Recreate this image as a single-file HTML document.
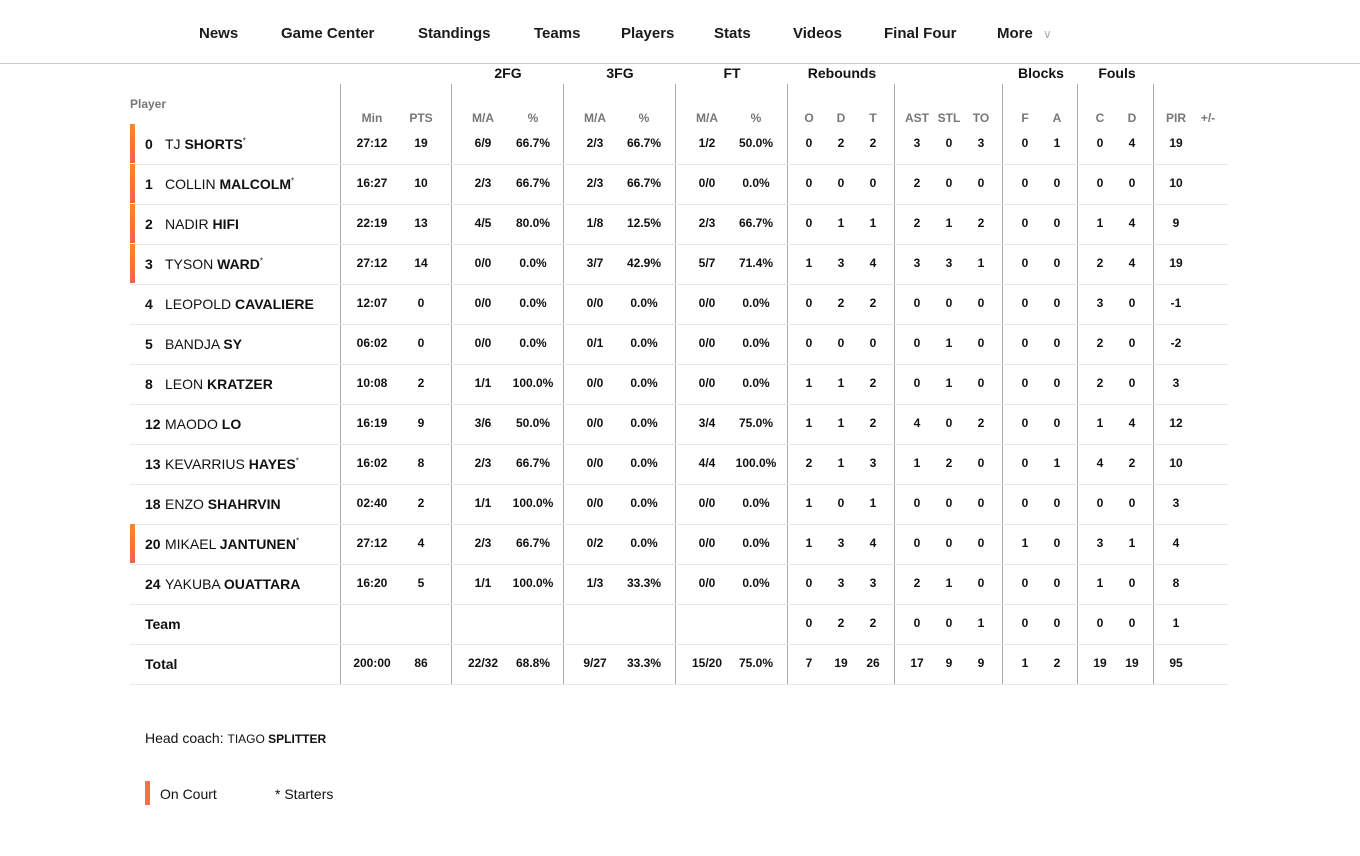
<!DOCTYPE html>
<html><head><meta charset="utf-8"><style>
body{margin:0;width:1360px;height:856px;background:#fff;font-family:"Liberation Sans",sans-serif;color:#111;position:relative;overflow:hidden}
.a{position:absolute;white-space:nowrap}
.nav{top:25px;font-size:15px;font-weight:bold;color:#1a1a1a}
.c{transform:translateX(-50%);font-size:12px;font-weight:bold;top:0}
.h{color:#777;font-size:12px;font-weight:bold}
.g{font-size:14px;font-weight:bold;transform:translateX(-50%);top:65px}
.vl{position:absolute;top:84px;height:600px;width:1px;background:#aaa}
.hl{position:absolute;left:130px;width:1098px;height:1px;background:#e8e8e8}
.bar{position:absolute;left:130px;width:5px;height:39px;background:linear-gradient(#f98a2c,#f5604a)}
.nm{font-size:14px;left:145px}
</style></head><body>
<div class="a nav" style="left:199px">News</div>
<div class="a nav" style="left:281px">Game Center</div>
<div class="a nav" style="left:418px">Standings</div>
<div class="a nav" style="left:534px">Teams</div>
<div class="a nav" style="left:621px">Players</div>
<div class="a nav" style="left:714px">Stats</div>
<div class="a nav" style="left:793px">Videos</div>
<div class="a nav" style="left:884px">Final Four</div>
<div class="a nav" style="left:997px">More <span style="color:#aaa;font-weight:normal;font-size:12px;margin-left:6px">&#x2228;</span></div>
<div style="position:absolute;left:0;top:63px;width:1360px;height:1px;background:#ccc"></div>
<div class="a g" style="left:508px">2FG</div>
<div class="a g" style="left:620px">3FG</div>
<div class="a g" style="left:732px">FT</div>
<div class="a g" style="left:842px">Rebounds</div>
<div class="a g" style="left:1041px">Blocks</div>
<div class="a g" style="left:1117px">Fouls</div>
<div class="a h" style="left:130px;top:97px;font-size:12px">Player</div>
<div class="vl" style="left:340px"></div><div class="vl" style="left:451px"></div><div class="vl" style="left:563px"></div><div class="vl" style="left:675px"></div><div class="vl" style="left:787px"></div><div class="vl" style="left:894px"></div><div class="vl" style="left:1002px"></div><div class="vl" style="left:1077px"></div><div class="vl" style="left:1153px"></div>
<div id="t"></div>
<div class="a" style="left:145px;top:730px;font-size:14px">Head coach: <span style="font-size:12px">TIAGO <b>SPLITTER</b></span></div>
<div style="position:absolute;left:145px;top:781px;width:5px;height:24px;background:#f5704a"></div>
<div class="a" style="left:160px;top:786px;font-size:14px">On Court</div>
<div class="a" style="left:275px;top:786px;font-size:14px">* Starters</div>
<script>
var X=[372,421,483,533,595,644,707,756,809,841,873,917,949,981,1025,1057,1100,1132,1176,1208];
var H=["Min","PTS","M/A","%","M/A","%","M/A","%","O","D","T","AST","STL","TO","F","A","C","D","PIR","+/-"];
var R=[
["0","TJ","SHORTS",1,1,"27:12 19 6/9 66.7% 2/3 66.7% 1/2 50.0% 0 2 2 3 0 3 0 1 0 4 19"],
["1","COLLIN","MALCOLM",1,1,"16:27 10 2/3 66.7% 2/3 66.7% 0/0 0.0% 0 0 0 2 0 0 0 0 0 0 10"],
["2","NADIR","HIFI",0,1,"22:19 13 4/5 80.0% 1/8 12.5% 2/3 66.7% 0 1 1 2 1 2 0 0 1 4 9"],
["3","TYSON","WARD",1,1,"27:12 14 0/0 0.0% 3/7 42.9% 5/7 71.4% 1 3 4 3 3 1 0 0 2 4 19"],
["4","LEOPOLD","CAVALIERE",0,0,"12:07 0 0/0 0.0% 0/0 0.0% 0/0 0.0% 0 2 2 0 0 0 0 0 3 0 -1"],
["5","BANDJA","SY",0,0,"06:02 0 0/0 0.0% 0/1 0.0% 0/0 0.0% 0 0 0 0 1 0 0 0 2 0 -2"],
["8","LEON","KRATZER",0,0,"10:08 2 1/1 100.0% 0/0 0.0% 0/0 0.0% 1 1 2 0 1 0 0 0 2 0 3"],
["12","MAODO","LO",0,0,"16:19 9 3/6 50.0% 0/0 0.0% 3/4 75.0% 1 1 2 4 0 2 0 0 1 4 12"],
["13","KEVARRIUS","HAYES",1,0,"16:02 8 2/3 66.7% 0/0 0.0% 4/4 100.0% 2 1 3 1 2 0 0 1 4 2 10"],
["18","ENZO","SHAHRVIN",0,0,"02:40 2 1/1 100.0% 0/0 0.0% 0/0 0.0% 1 0 1 0 0 0 0 0 0 0 3"],
["20","MIKAEL","JANTUNEN",1,1,"27:12 4 2/3 66.7% 0/2 0.0% 0/0 0.0% 1 3 4 0 0 0 1 0 3 1 4"],
["24","YAKUBA","OUATTARA",0,0,"16:20 5 1/1 100.0% 1/3 33.3% 0/0 0.0% 0 3 3 2 1 0 0 0 1 0 8"],
["Team","","",0,0,"_ _ _ _ _ _ _ _ 0 2 2 0 0 1 0 0 0 0 1"],
["Total","","",0,0,"200:00 86 22/32 68.8% 9/27 33.3% 15/20 75.0% 7 19 26 17 9 9 1 2 19 19 95"]];
var s="";
H.forEach(function(h,i){s+='<div class="a c h" style="left:'+X[i]+'px;top:111px">'+h+'</div>';});
R.forEach(function(r,k){var y=124+k*40,ty=y+13;
 if(r[4])s+='<div class="bar" style="top:'+y+'px"></div>';
 s+='<div class="hl" style="top:'+(y+40)+'px"></div>';
 if(r[1])s+='<div class="a nm" style="top:'+(ty-1)+'px"><b>'+r[0]+'</b><span style="position:absolute;left:20px">'+r[1]+' <b>'+r[2]+'</b>'+(r[3]?'<sup style="font-size:8px">*</sup>':'')+'</span></div>';
 else s+='<div class="a nm" style="top:'+(ty-1)+'px"><b>'+r[0]+'</b></div>';
 r[5].split(" ").forEach(function(v,i){if(v!="_")s+='<div class="a c" style="left:'+X[i]+'px;top:'+(ty-1)+'px">'+v+'</div>';});
});
document.getElementById("t").innerHTML=s;
</script>
</body></html>
